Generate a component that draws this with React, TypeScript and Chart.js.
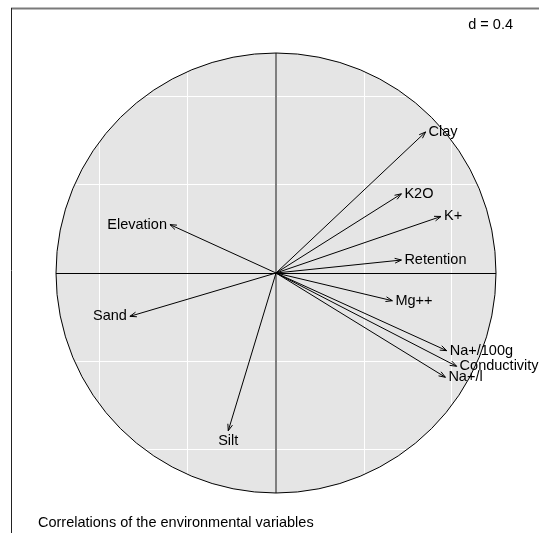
import React, { useEffect, useRef } from "react";
import { Chart, registerables } from "chart.js";

Chart.register(...registerables);

const variables = ["Clay", "K2O", "K+", "Retention", "Mg++", "Na+/100g", "Conductivity", "Na+/l", "Elevation", "Sand", "Silt"];
const axis1 = [0.680, 0.570, 0.750, 0.570, 0.529, 0.776, 0.821, 0.770, -0.482, -0.664, -0.217];
const axis2 = [0.641, 0.360, 0.257, 0.059, -0.126, -0.353, -0.424, -0.474, 0.220, -0.197, -0.717];
const gridValues = [-0.8, -0.4, 0, 0.4, 0.8];
const gridLabel = "d = 0.4";
const subTitle = "Correlations of the environmental variables";

const FONT = '14.5px "Liberation Sans", Arial, Helvetica, sans-serif';

const corPlugin = {
  id: "corcircle",
  beforeDraw(chart: any) {
    const { ctx, scales } = chart;
    const xs = scales.x, ys = scales.y;
    const cx = xs.getPixelForValue(0), cy = ys.getPixelForValue(0);
    const r = xs.getPixelForValue(1) - cx;
    ctx.save();
    ctx.fillStyle = "#ffffff";
    ctx.fillRect(0, 0, chart.width, chart.height);
    ctx.beginPath();
    ctx.arc(cx, cy, r, 0, Math.PI * 2);
    ctx.fillStyle = "#e5e5e5";
    ctx.fill();
    ctx.restore();
  },
  beforeDatasetsDraw(chart: any) {
    const { ctx, scales } = chart;
    const xs = scales.x, ys = scales.y;
    const cx = xs.getPixelForValue(0), cy = ys.getPixelForValue(0);
    const r = xs.getPixelForValue(1) - cx;
    ctx.save();
    ctx.strokeStyle = "#7f7f7f";
    ctx.lineWidth = 2;
    ctx.beginPath();
    ctx.moveTo(cx, ys.getPixelForValue(1));
    ctx.lineTo(cx, ys.getPixelForValue(-1));
    ctx.stroke();
    ctx.strokeStyle = "#000000";
    ctx.lineWidth = 1;
    ctx.beginPath();
    ctx.moveTo(xs.getPixelForValue(-1), Math.round(cy) + 0.5);
    ctx.lineTo(xs.getPixelForValue(1), Math.round(cy) + 0.5);
    ctx.stroke();
    ctx.beginPath();
    ctx.arc(cx, cy, r, 0, Math.PI * 2);
    ctx.strokeStyle = "#000000";
    ctx.lineWidth = 1;
    ctx.stroke();
    ctx.restore();
  },
  afterDatasetsDraw(chart: any) {
    const { ctx, scales } = chart;
    const xs = scales.x, ys = scales.y;
    const cx = xs.getPixelForValue(0), cy = ys.getPixelForValue(0);
    ctx.save();
    ctx.strokeStyle = "#000000";
    ctx.fillStyle = "#000000";
    ctx.lineWidth = 1;
    ctx.font = FONT;
    ctx.textBaseline = "middle";
    const headLen = 7;
    const headAng = (20 * Math.PI) / 180;
    variables.forEach((name, i) => {
      const px = xs.getPixelForValue(axis1[i]);
      const py = ys.getPixelForValue(axis2[i]);
      const ang = Math.atan2(py - cy, px - cx);
      ctx.beginPath();
      ctx.moveTo(px - headLen * Math.cos(ang - headAng), py - headLen * Math.sin(ang - headAng));
      ctx.lineTo(px, py);
      ctx.lineTo(px - headLen * Math.cos(ang + headAng), py - headLen * Math.sin(ang + headAng));
      ctx.stroke();
      const ax = Math.abs(axis1[i]), ay = Math.abs(axis2[i]);
      if (ax >= ay) {
        if (axis1[i] >= 0) {
          ctx.textAlign = "left";
          ctx.fillText(name, px + 3, py);
        } else {
          ctx.textAlign = "right";
          ctx.fillText(name, px - 3, py);
        }
      } else {
        ctx.textAlign = "center";
        if (axis2[i] < 0) {
          ctx.textBaseline = "top";
          ctx.fillText(name, px, py + 3);
        } else {
          ctx.textBaseline = "bottom";
          ctx.fillText(name, px, py - 3);
        }
        ctx.textBaseline = "middle";
      }
    });
    ctx.restore();
  },
  afterDraw(chart: any) {
    const { ctx } = chart;
    ctx.save();
    ctx.strokeStyle = "#7a7a7a";
    ctx.lineWidth = 2;
    ctx.beginPath();
    ctx.moveTo(11, 8.5);
    ctx.lineTo(chart.width, 8.5);
    ctx.stroke();
    ctx.strokeStyle = "#222222";
    ctx.lineWidth = 1;
    ctx.beginPath();
    ctx.moveTo(11.5, 8);
    ctx.lineTo(11.5, chart.height);
    ctx.stroke();
    ctx.fillStyle = "#000000";
    ctx.font = FONT;
    ctx.textBaseline = "middle";
    ctx.textAlign = "right";
    ctx.fillText(gridLabel, 513, 25);
    ctx.textAlign = "left";
    ctx.fillText(subTitle, 38, 523);
    ctx.restore();
  },
};

export default function App() {
  const canvasRef = useRef<HTMLCanvasElement | null>(null);
  useEffect(() => {
    if (!canvasRef.current) return;
    const datasets = variables.map((name, i) => ({
      label: name,
      data: [
        { x: 0, y: 0 },
        { x: axis1[i], y: axis2[i] },
      ],
      showLine: true,
      borderColor: "#000000",
      borderWidth: 1,
      pointRadius: 0,
      pointHoverRadius: 0,
      fill: false,
    }));
    const gridOpts = {
      color: "#ffffff",
      lineWidth: 1,
      drawTicks: false,
    };
    const chart = new Chart(canvasRef.current, {
      type: "scatter",
      data: { datasets },
      options: {
        animation: false,
        responsive: false,
        devicePixelRatio: 1,
        layout: { padding: { left: 12, top: 9, right: 0, bottom: 0 } },
        plugins: { legend: { display: false }, tooltip: { enabled: false } },
        scales: {
          x: {
            type: "linear",
            min: -1.2,
            max: -1.2 + 527 / 220,
            ticks: { display: false },
            grid: gridOpts,
            border: { display: false },
            afterBuildTicks: (scale: any) => {
              scale.ticks = gridValues.map((v) => ({ value: v }));
            },
          },
          y: {
            type: "linear",
            max: 1.2,
            min: 1.2 - 524 / 220,
            ticks: { display: false },
            grid: gridOpts,
            border: { display: false },
            afterBuildTicks: (scale: any) => {
              scale.ticks = gridValues.map((v) => ({ value: v }));
            },
          },
        },
      },
      plugins: [corPlugin],
    } as any);
    return () => chart.destroy();
  }, []);
  return (
    <div style={{ position: "fixed", left: 0, top: 0, width: 539, height: 533, background: "#fff" }}>
      <canvas ref={canvasRef} width={539} height={533} style={{ display: "block" }} />
    </div>
  );
}
